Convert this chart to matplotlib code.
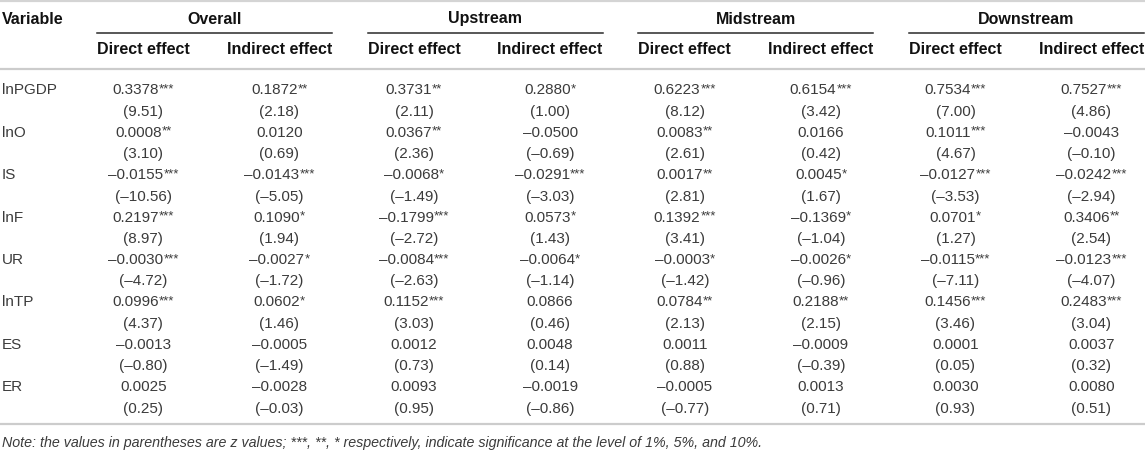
import matplotlib
matplotlib.use("Agg")
import matplotlib.pyplot as plt

plt.rcParams["font.family"] = ["Liberation Sans", "DejaVu Sans"]

variables = ["lnPGDP", "lnO", "IS", "lnF", "UR", "lnTP", "ES", "ER"]
groups = ["Overall", "Upstream", "Midstream", "Downstream"]
subheads = ["Direct effect", "Indirect effect"]

# coefficients (with significance stars) per variable, 8 columns:
# Overall D/I, Upstream D/I, Midstream D/I, Downstream D/I
coef = [
    ["0.3378***", "0.1872**", "0.3731**", "0.2880*", "0.6223***", "0.6154***", "0.7534***", "0.7527***"],
    ["0.0008**", "0.0120", "0.0367**", "–0.0500", "0.0083**", "0.0166", "0.1011***", "–0.0043"],
    ["–0.0155***", "–0.0143***", "–0.0068*", "–0.0291***", "0.0017**", "0.0045*", "–0.0127***", "–0.0242***"],
    ["0.2197***", "0.1090*", "–0.1799***", "0.0573*", "0.1392***", "–0.1369*", "0.0701*", "0.3406**"],
    ["–0.0030***", "–0.0027*", "–0.0084***", "–0.0064*", "–0.0003*", "–0.0026*", "–0.0115***", "–0.0123***"],
    ["0.0996***", "0.0602*", "0.1152***", "0.0866", "0.0784**", "0.2188**", "0.1456***", "0.2483***"],
    ["–0.0013", "–0.0005", "0.0012", "0.0048", "0.0011", "–0.0009", "0.0001", "0.0037"],
    ["0.0025", "–0.0028", "0.0093", "–0.0019", "–0.0005", "0.0013", "0.0030", "0.0080"],
]
# z values
zval = [
    ["9.51", "2.18", "2.11", "1.00", "8.12", "3.42", "7.00", "4.86"],
    ["3.10", "0.69", "2.36", "–0.69", "2.61", "0.42", "4.67", "–0.10"],
    ["–10.56", "–5.05", "–1.49", "–3.03", "2.81", "1.67", "–3.53", "–2.94"],
    ["8.97", "1.94", "–2.72", "1.43", "3.41", "–1.04", "1.27", "2.54"],
    ["–4.72", "–1.72", "–2.63", "–1.14", "–1.42", "–0.96", "–7.11", "–4.07"],
    ["4.37", "1.46", "3.03", "0.46", "2.13", "2.15", "3.46", "3.04"],
    ["–0.80", "–1.49", "0.73", "0.14", "0.88", "–0.39", "0.05", "0.32"],
    ["0.25", "–0.03", "0.95", "–0.86", "–0.77", "0.71", "0.93", "0.51"],
]
note = ("Note: the values in parentheses are z values; ***, **, * respectively, "
        "indicate significance at the level of 1%, 5%, and 10%.")

W, H = 1145, 455
fig = plt.figure(figsize=(W / 100, H / 100), dpi=100)
ax = fig.add_axes([0, 0, 1, 1])
ax.set_xlim(0, W)
ax.set_ylim(H, 0)
ax.axis("off")
r = fig.canvas.get_renderer()

txt = "#3b3b3b"
fs = 11
fs_head = 11.5

# layout
g_start = 97
g_step = 270.7
g_len = 235
row0 = 89
row_step = 21.2

# horizontal rules
ax.plot([0, W], [1, 1], color="#d4d4d4", lw=1.6)
ax.plot([0, W], [69, 69], color="#cccccc", lw=1.6)
ax.plot([0, W], [424, 424], color="#cccccc", lw=1.6)

ax.text(2, 19, "Variable", fontsize=fs_head, fontweight="bold", color="#111111",
        ha="left", va="center")

col_centers = []
for i, g in enumerate(groups):
    x0 = g_start + g_step * i
    x1 = min(x0 + g_len, W - 1)
    ax.plot([x0, x1], [33, 33], color="#2a2a2a", lw=1.1)
    ax.text((x0 + x1) / 2, 19, g, fontsize=fs_head, fontweight="bold",
            color="#111111", ha="center", va="center")
    t1 = ax.text(x0, 50, subheads[0], fontsize=fs_head, fontweight="bold",
                 color="#111111", ha="left", va="center")
    t2 = ax.text(x1, 50, subheads[1], fontsize=fs_head, fontweight="bold",
                 color="#111111", ha="right", va="center")
    w1 = t1.get_window_extent(r).width
    w2 = t2.get_window_extent(r).width
    col_centers.append(x0 + w1 / 2)
    col_centers.append(x1 - w2 / 2)


def cell(cx, yc, s):
    num = s.rstrip("*")
    stars = s[len(num):]
    yb = yc + 5.5
    t = ax.text(0, yb, num, fontsize=fs, color=txt, ha="left", va="baseline")
    wn = t.get_window_extent(r).width
    ws = 0
    ts = None
    if stars:
        ts = ax.text(0, yb - 2, stars, fontsize=9.5, color=txt, ha="left",
                     va="baseline")
        ws = ts.get_window_extent(r).width
    left = cx - (wn + ws) / 2
    t.set_x(left)
    if ts is not None:
        ts.set_x(left + wn)


for i, v in enumerate(variables):
    yc = row0 + 2 * i * row_step
    ax.text(2, yc + 5.5, v, fontsize=fs, color=txt, ha="left", va="baseline")
    for j in range(8):
        cell(col_centers[j], yc, coef[i][j])
        cell(col_centers[j], yc + row_step, "(" + zval[i][j] + ")")

ax.text(2, 443, note, fontsize=10.25, style="italic", color=txt,
        ha="left", va="center")

fig.savefig("out.png", dpi=100)
